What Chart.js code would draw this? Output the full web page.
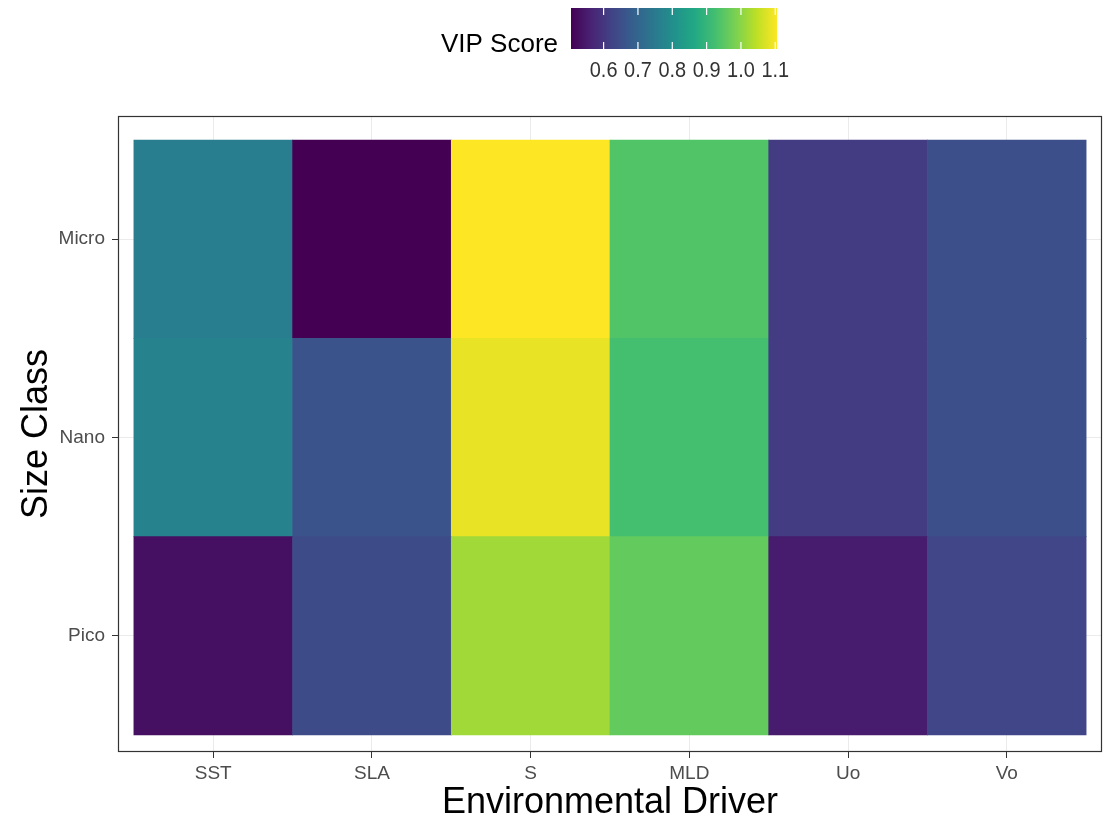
<!DOCTYPE html>
<html>
<head>
<meta charset="utf-8">
<script src="https://cdn.jsdelivr.net/npm/chart.js@4.4.1/dist/chart.umd.min.js"></script>
<style>
  html, body { margin: 0; background: #fff; }
  #wrap { width: 1104px; height: 823px; position: relative; }
</style>
</head>
<body>
<div id="wrap"><canvas id="vipChart"></canvas></div>
<script>
const drivers = ["SST", "SLA", "S", "MLD", "Uo", "Vo"];
const sizeClasses = ["Pico", "Nano", "Micro"];

// VIP score per driver, one list per size class
const picoVip  = [0.53, 0.64, 1.02, 0.96, 0.55, 0.63];
const nanoVip  = [0.77, 0.66, 1.085, 0.925, 0.61, 0.65];
const microVip = [0.76, 0.505, 1.105, 0.94, 0.61, 0.65];

const legendTicks = [0.6, 0.7, 0.8, 0.9, 1.0, 1.1];
const vipMin = 0.505;
const vipMax = 1.105;

const viridis = ["#440154", "#482475", "#414487", "#355F8D", "#2A788E", "#21918C",
                 "#22A884", "#44BF70", "#7AD151", "#BDDF26", "#FDE725"];

function hexToRgb(h) {
    return [parseInt(h.slice(1, 3), 16), parseInt(h.slice(3, 5), 16), parseInt(h.slice(5, 7), 16)];
}

function vipColor(v) {
    let t = (v - vipMin) / (vipMax - vipMin);
    t = Math.max(0, Math.min(1, t)) * (viridis.length - 1);
    const i = Math.min(Math.floor(t), viridis.length - 2);
    const f = t - i;
    const a = hexToRgb(viridis[i]);
    const b = hexToRgb(viridis[i + 1]);
    const c = a.map((x, k) => Math.round(x + (b[k] - x) * f));
    return `rgb(${c[0]},${c[1]},${c[2]})`;
}

const rows = [picoVip, nanoVip, microVip];

const datasets = rows.map((vals, r) => ({
    label: sizeClasses[r],
    data: vals.map((v, i) => ({ x: i, y: [r - 0.5, r + 0.5], v: v })),
    backgroundColor: vals.map(vipColor),
    borderWidth: 0,
    grouped: false,
    barPercentage: 1,
    categoryPercentage: 1
}));

const fontFamily = "'Liberation Sans', Arial, sans-serif";

// frame round the panel
const panelFrame = {
    id: "panelFrame",
    afterDatasetsDraw(chart) {
        const { ctx, chartArea: a } = chart;
        ctx.save();
        ctx.strokeStyle = "#333333";
        ctx.lineWidth = 1.2;
        ctx.strokeRect(a.left + 0.5, a.top + 0.5, a.right - a.left - 1, a.bottom - a.top - 1);
        ctx.restore();
    }
};

// colour bar legend on top
const colorBar = {
    id: "colorBar",
    afterDraw(chart) {
        const ctx = chart.ctx;
        const x0 = 571, y0 = 8, w = 206, h = 41;
        ctx.save();
        const grad = ctx.createLinearGradient(x0, 0, x0 + w, 0);
        viridis.forEach((c, i) => grad.addColorStop(i / (viridis.length - 1), c));
        ctx.fillStyle = grad;
        ctx.fillRect(x0, y0, w, h);

        ctx.strokeStyle = "#ffffff";
        ctx.lineWidth = 1.2;
        ctx.fillStyle = "#333333";
        ctx.font = "21px " + fontFamily;
        ctx.textAlign = "center";
        ctx.textBaseline = "middle";
        legendTicks.forEach(t => {
            const x = x0 + (t - vipMin) / (vipMax - vipMin) * w;
            ctx.beginPath();
            ctx.moveTo(x, y0); ctx.lineTo(x, y0 + 7);
            ctx.moveTo(x, y0 + h - 7); ctx.lineTo(x, y0 + h);
            ctx.stroke();
            ctx.save();
            ctx.translate(x, 71);
            ctx.scale(0.95, 1.05);
            ctx.fillText(t.toFixed(1), 0, 0);
            ctx.restore();
        });

        ctx.fillStyle = "#000000";
        ctx.font = "26px " + fontFamily;
        ctx.textAlign = "right";
        ctx.fillText("VIP Score", 558, 45);
        ctx.restore();
    }
};

new Chart(document.getElementById("vipChart"), {
    type: "bar",
    data: { datasets: datasets },
    options: {
        responsive: true,
        maintainAspectRatio: false,
        animation: false,
        layout: { padding: { top: 116, right: 2, left: 0, bottom: 0 } },
        plugins: {
            legend: { display: false },
            tooltip: { enabled: false }
        },
        scales: {
            x: {
                type: "linear",
                min: -0.6,
                max: 5.6,
                offset: false,
                afterBuildTicks: s => { s.ticks = drivers.map((d, i) => ({ value: i })); },
                afterFit: s => { s.height = 71; },
                ticks: {
                    callback: v => drivers[v],
                    color: "#4d4d4d",
                    font: { family: fontFamily, size: 19 },
                    padding: 4,
                    maxRotation: 0
                },
                grid: { color: "#ebebeb", tickColor: "#333333", tickLength: 6, offset: false },
                border: { display: false },
                title: {
                    display: true,
                    text: "Environmental Driver",
                    color: "#000000",
                    font: { family: fontFamily, size: 36 },
                    padding: { top: 0, bottom: -2 }
                }
            },
            y: {
                type: "linear",
                min: -0.586,
                max: 2.621,
                afterBuildTicks: s => { s.ticks = sizeClasses.map((d, i) => ({ value: i })); },
                afterFit: s => { s.width = 118; },
                ticks: {
                    callback: v => sizeClasses[v],
                    color: "#4d4d4d",
                    font: { family: fontFamily, size: 19 },
                    padding: 7
                },
                grid: { color: "#ebebeb", tickColor: "#333333", tickLength: 6 },
                border: { display: false },
                title: {
                    display: true,
                    text: "Size Class",
                    color: "#000000",
                    font: { family: fontFamily, size: 36 },
                    padding: { top: 15, bottom: 0 }
                }
            }
        }
    },
    plugins: [panelFrame, colorBar]
});
</script>
</body>
</html>
